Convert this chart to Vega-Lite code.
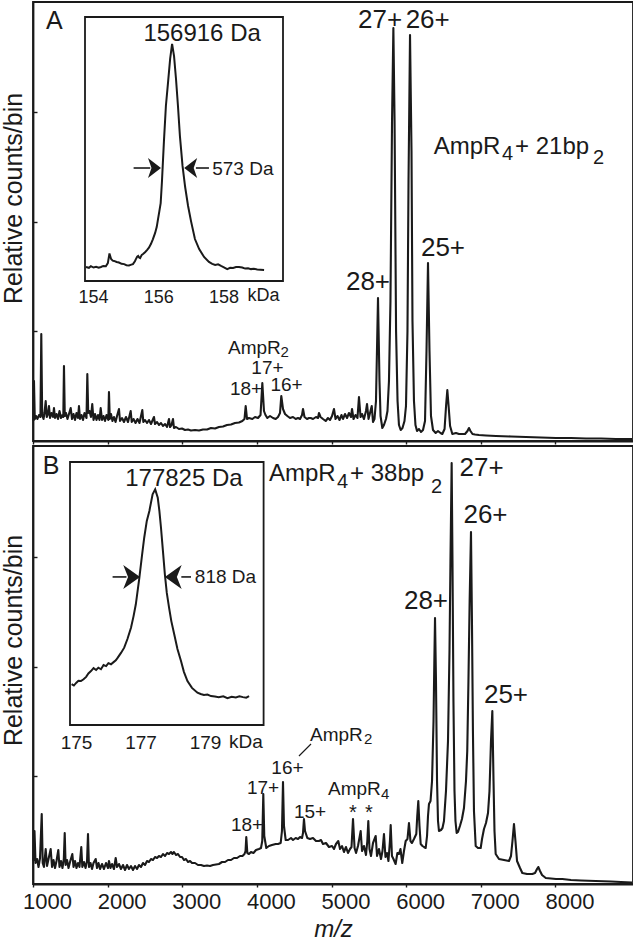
{
  "$schema": "https://vega.github.io/schema/vega-lite/v6.json",
  "padding": {"left": 0, "top": 1, "right": 0, "bottom": 0},
  "background": "white",
  "bounds": "flush",
  "spacing": 5,
  "config": {
    "font": "Liberation Sans",
    "view": {"stroke": "#1a1a1a", "strokeWidth": 1.8},
    "axis": {"grid": false, "domainColor": "#1a1a1a", "domainWidth": 1.8, "tickColor": "#1a1a1a", "tickWidth": 1.4, "labelColor": "#1a1a1a", "titleColor": "#1a1a1a", "titleFontWeight": "normal", "labelFont": "Liberation Sans", "titleFont": "Liberation Sans"},
    "text": {"color": "#1a1a1a", "font": "Liberation Sans"}
  },
  "datasets": {
    "specA": [
      {"mz":1007,"v":20},{"mz":1013,"v":60},{"mz":1024,"v":22},{"mz":1040,"v":25},{"mz":1060,"v":22},{"mz":1080,"v":26},{"mz":1100,"v":24},{"mz":1111,"v":107},{"mz":1123,"v":26},{"mz":1141,"v":22},{"mz":1154,"v":28},{"mz":1170,"v":40},{"mz":1184,"v":24},{"mz":1201,"v":27},{"mz":1214,"v":35},{"mz":1228,"v":23},{"mz":1248,"v":28},{"mz":1268,"v":24},{"mz":1281,"v":33},{"mz":1295,"v":23},{"mz":1315,"v":27},{"mz":1335,"v":22},{"mz":1355,"v":30},{"mz":1375,"v":23},{"mz":1395,"v":26},{"mz":1406,"v":24},{"mz":1415,"v":75},{"mz":1426,"v":25},{"mz":1442,"v":28},{"mz":1462,"v":22},{"mz":1482,"v":27},{"mz":1505,"v":33},{"mz":1523,"v":22},{"mz":1543,"v":27},{"mz":1563,"v":21},{"mz":1583,"v":28},{"mz":1603,"v":23},{"mz":1616,"v":35},{"mz":1630,"v":22},{"mz":1650,"v":26},{"mz":1670,"v":21},{"mz":1690,"v":28},{"mz":1717,"v":23},{"mz":1728,"v":67},{"mz":1740,"v":28},{"mz":1757,"v":30},{"mz":1777,"v":24},{"mz":1794,"v":37},{"mz":1811,"v":21},{"mz":1831,"v":27},{"mz":1851,"v":21},{"mz":1871,"v":26},{"mz":1891,"v":21},{"mz":1907,"v":33},{"mz":1925,"v":21},{"mz":1945,"v":25},{"mz":1965,"v":20},{"mz":1985,"v":26},{"mz":2009,"v":21},{"mz":2018,"v":49},{"mz":2029,"v":22},{"mz":2045,"v":27},{"mz":2065,"v":20},{"mz":2085,"v":24},{"mz":2106,"v":19},{"mz":2126,"v":25},{"mz":2152,"v":32},{"mz":2166,"v":20},{"mz":2193,"v":23},{"mz":2219,"v":19},{"mz":2246,"v":24},{"mz":2273,"v":19},{"mz":2309,"v":30},{"mz":2323,"v":19},{"mz":2347,"v":22},{"mz":2374,"v":18},{"mz":2400,"v":22},{"mz":2427,"v":18},{"mz":2465,"v":31},{"mz":2478,"v":19},{"mz":2501,"v":21},{"mz":2528,"v":18},{"mz":2554,"v":21},{"mz":2581,"v":17},{"mz":2621,"v":24},{"mz":2635,"v":17},{"mz":2662,"v":19},{"mz":2688,"v":16},{"mz":2715,"v":18},{"mz":2742,"v":15},{"mz":2769,"v":17},{"mz":2796,"v":14},{"mz":2822,"v":22},{"mz":2836,"v":14},{"mz":2856,"v":16},{"mz":2876,"v":22},{"mz":2889,"v":13},{"mz":2916,"v":14},{"mz":2956,"v":12},{"mz":2997,"v":12.5},{"mz":3037,"v":11},{"mz":3077,"v":11.5},{"mz":3117,"v":10.5},{"mz":3171,"v":11},{"mz":3224,"v":10.5},{"mz":3278,"v":11.5},{"mz":3332,"v":11.5},{"mz":3385,"v":13},{"mz":3439,"v":12.5},{"mz":3492,"v":14},{"mz":3546,"v":14.5},{"mz":3600,"v":16},{"mz":3653,"v":16.5},{"mz":3707,"v":18},{"mz":3760,"v":18.5},{"mz":3805,"v":20},{"mz":3834,"v":22},{"mz":3850,"v":35},{"mz":3868,"v":22},{"mz":3894,"v":23},{"mz":3939,"v":22},{"mz":3975,"v":24},{"mz":4015,"v":23},{"mz":4049,"v":26},{"mz":4073,"v":58},{"mz":4095,"v":30},{"mz":4115,"v":26},{"mz":4140,"v":23},{"mz":4176,"v":25},{"mz":4216,"v":23},{"mz":4252,"v":22},{"mz":4283,"v":24},{"mz":4310,"v":28},{"mz":4327,"v":45},{"mz":4350,"v":32},{"mz":4377,"v":27},{"mz":4408,"v":25},{"mz":4444,"v":23},{"mz":4484,"v":24},{"mz":4520,"v":22},{"mz":4551,"v":23},{"mz":4578,"v":22},{"mz":4605,"v":26},{"mz":4618,"v":32},{"mz":4638,"v":24},{"mz":4672,"v":22},{"mz":4698,"v":23},{"mz":4721,"v":23},{"mz":4752,"v":22},{"mz":4792,"v":24},{"mz":4819,"v":23},{"mz":4832,"v":28},{"mz":4853,"v":24},{"mz":4886,"v":22},{"mz":4922,"v":20},{"mz":4953,"v":23},{"mz":4980,"v":21},{"mz":5007,"v":25},{"mz":5033,"v":32},{"mz":5054,"v":22},{"mz":5080,"v":25},{"mz":5107,"v":21},{"mz":5134,"v":26},{"mz":5154,"v":22},{"mz":5181,"v":27},{"mz":5208,"v":23},{"mz":5234,"v":28},{"mz":5261,"v":24},{"mz":5275,"v":32},{"mz":5295,"v":22},{"mz":5322,"v":26},{"mz":5348,"v":23},{"mz":5368,"v":44},{"mz":5389,"v":24},{"mz":5409,"v":27},{"mz":5435,"v":22},{"mz":5462,"v":30},{"mz":5476,"v":37},{"mz":5496,"v":22},{"mz":5516,"v":28},{"mz":5539,"v":35},{"mz":5556,"v":19},{"mz":5576,"v":22},{"mz":5596,"v":40},{"mz":5623,"v":143},{"mz":5643,"v":60},{"mz":5657,"v":25},{"mz":5681,"v":13},{"mz":5703,"v":16},{"mz":5730,"v":22},{"mz":5750,"v":30},{"mz":5770,"v":60},{"mz":5790,"v":140},{"mz":5811,"v":320},{"mz":5829,"v":413},{"mz":5845,"v":320},{"mz":5865,"v":110},{"mz":5885,"v":40},{"mz":5904,"v":16},{"mz":5927,"v":11},{"mz":5951,"v":13},{"mz":5978,"v":20},{"mz":5998,"v":35},{"mz":6018,"v":110},{"mz":6032,"v":260},{"mz":6052,"v":406},{"mz":6072,"v":290},{"mz":6085,"v":120},{"mz":6105,"v":40},{"mz":6125,"v":16},{"mz":6146,"v":10},{"mz":6172,"v":12},{"mz":6199,"v":9},{"mz":6226,"v":11},{"mz":6253,"v":20},{"mz":6273,"v":90},{"mz":6293,"v":178},{"mz":6313,"v":90},{"mz":6333,"v":25},{"mz":6360,"v":11},{"mz":6396,"v":8},{"mz":6427,"v":10},{"mz":6461,"v":8},{"mz":6485,"v":7},{"mz":6515,"v":12},{"mz":6535,"v":35},{"mz":6552,"v":51},{"mz":6569,"v":35},{"mz":6589,"v":15},{"mz":6619,"v":7},{"mz":6668,"v":8},{"mz":6708,"v":7},{"mz":6752,"v":7},{"mz":6789,"v":7},{"mz":6822,"v":10},{"mz":6842,"v":13},{"mz":6862,"v":10},{"mz":6889,"v":7},{"mz":6923,"v":6.5},{"mz":6976,"v":6},{"mz":7070,"v":5.5},{"mz":7204,"v":5},{"mz":7405,"v":4.5},{"mz":7606,"v":4},{"mz":7807,"v":3.5},{"mz":8008,"v":3},{"mz":8209,"v":3},{"mz":8410,"v":2.5},{"mz":8611,"v":2.5},{"mz":8812,"v":2},{"mz":9027,"v":2}
    ],
    "specB": [
      {"mz":1007,"v":23},{"mz":1020,"v":53},{"mz":1034,"v":21},{"mz":1054,"v":25},{"mz":1074,"v":17},{"mz":1094,"v":26},{"mz":1117,"v":70},{"mz":1130,"v":21},{"mz":1147,"v":17},{"mz":1170,"v":35},{"mz":1188,"v":18},{"mz":1208,"v":25},{"mz":1237,"v":35},{"mz":1255,"v":17},{"mz":1275,"v":24},{"mz":1295,"v":16},{"mz":1315,"v":23},{"mz":1339,"v":34},{"mz":1355,"v":17},{"mz":1375,"v":23},{"mz":1395,"v":16},{"mz":1413,"v":25},{"mz":1425,"v":51},{"mz":1437,"v":19},{"mz":1456,"v":24},{"mz":1476,"v":16},{"mz":1496,"v":22},{"mz":1527,"v":30},{"mz":1543,"v":17},{"mz":1563,"v":23},{"mz":1583,"v":16},{"mz":1603,"v":21},{"mz":1623,"v":17},{"mz":1647,"v":37},{"mz":1661,"v":17},{"mz":1683,"v":22},{"mz":1704,"v":16},{"mz":1724,"v":23},{"mz":1737,"v":50},{"mz":1750,"v":17},{"mz":1771,"v":21},{"mz":1791,"v":15},{"mz":1811,"v":21},{"mz":1840,"v":25},{"mz":1858,"v":16},{"mz":1878,"v":21},{"mz":1898,"v":15},{"mz":1925,"v":20},{"mz":1951,"v":15},{"mz":1978,"v":21},{"mz":2005,"v":16},{"mz":2018,"v":23},{"mz":2039,"v":16},{"mz":2059,"v":20},{"mz":2085,"v":15},{"mz":2108,"v":26},{"mz":2126,"v":17},{"mz":2152,"v":20},{"mz":2179,"v":15},{"mz":2206,"v":19},{"mz":2233,"v":14},{"mz":2260,"v":19},{"mz":2286,"v":15},{"mz":2313,"v":18},{"mz":2340,"v":14},{"mz":2367,"v":18},{"mz":2394,"v":15},{"mz":2420,"v":19},{"mz":2447,"v":17},{"mz":2474,"v":21},{"mz":2501,"v":19},{"mz":2528,"v":23},{"mz":2554,"v":22},{"mz":2581,"v":25},{"mz":2608,"v":24},{"mz":2635,"v":27},{"mz":2662,"v":26},{"mz":2688,"v":28},{"mz":2715,"v":27},{"mz":2742,"v":30},{"mz":2769,"v":28},{"mz":2796,"v":31},{"mz":2822,"v":30},{"mz":2849,"v":32},{"mz":2869,"v":30},{"mz":2889,"v":32},{"mz":2916,"v":29},{"mz":2943,"v":30},{"mz":2970,"v":27},{"mz":2997,"v":27},{"mz":3023,"v":24},{"mz":3050,"v":25},{"mz":3077,"v":22},{"mz":3104,"v":23},{"mz":3131,"v":21},{"mz":3171,"v":21},{"mz":3211,"v":19},{"mz":3251,"v":19},{"mz":3291,"v":18},{"mz":3332,"v":18.5},{"mz":3372,"v":18},{"mz":3412,"v":19},{"mz":3452,"v":19.5},{"mz":3492,"v":20},{"mz":3533,"v":22},{"mz":3573,"v":22},{"mz":3613,"v":24},{"mz":3653,"v":24},{"mz":3693,"v":26},{"mz":3734,"v":26},{"mz":3774,"v":28},{"mz":3807,"v":28},{"mz":3834,"v":30},{"mz":3848,"v":33},{"mz":3858,"v":47},{"mz":3872,"v":31},{"mz":3894,"v":30},{"mz":3921,"v":32},{"mz":3954,"v":31},{"mz":3988,"v":34},{"mz":4028,"v":35},{"mz":4055,"v":36},{"mz":4072,"v":43},{"mz":4086,"v":90},{"mz":4099,"v":48},{"mz":4126,"v":36},{"mz":4162,"v":38},{"mz":4202,"v":39},{"mz":4252,"v":40},{"mz":4283,"v":40},{"mz":4319,"v":41},{"mz":4336,"v":53},{"mz":4350,"v":102},{"mz":4363,"v":58},{"mz":4386,"v":44},{"mz":4417,"v":44},{"mz":4457,"v":46},{"mz":4484,"v":44},{"mz":4520,"v":46},{"mz":4551,"v":45},{"mz":4578,"v":47},{"mz":4605,"v":46},{"mz":4618,"v":51},{"mz":4631,"v":65},{"mz":4645,"v":53},{"mz":4676,"v":46},{"mz":4712,"v":45},{"mz":4752,"v":46},{"mz":4792,"v":43},{"mz":4832,"v":43},{"mz":4859,"v":44},{"mz":4886,"v":40},{"mz":4926,"v":41},{"mz":4966,"v":37},{"mz":5007,"v":38},{"mz":5033,"v":35},{"mz":5060,"v":40},{"mz":5091,"v":43},{"mz":5114,"v":35},{"mz":5141,"v":38},{"mz":5167,"v":32},{"mz":5194,"v":37},{"mz":5221,"v":31},{"mz":5248,"v":35},{"mz":5268,"v":37},{"mz":5288,"v":65},{"mz":5309,"v":36},{"mz":5329,"v":31},{"mz":5355,"v":38},{"mz":5391,"v":53},{"mz":5409,"v":33},{"mz":5435,"v":38},{"mz":5462,"v":29},{"mz":5480,"v":43},{"mz":5493,"v":63},{"mz":5509,"v":35},{"mz":5529,"v":28},{"mz":5556,"v":41},{"mz":5592,"v":48},{"mz":5610,"v":28},{"mz":5636,"v":35},{"mz":5663,"v":25},{"mz":5683,"v":33},{"mz":5703,"v":50},{"mz":5723,"v":27},{"mz":5743,"v":31},{"mz":5763,"v":23},{"mz":5783,"v":43},{"mz":5793,"v":59},{"mz":5810,"v":28},{"mz":5830,"v":25},{"mz":5859,"v":20},{"mz":5883,"v":31},{"mz":5904,"v":30},{"mz":5924,"v":35},{"mz":5948,"v":21},{"mz":5971,"v":33},{"mz":5994,"v":43},{"mz":6018,"v":45},{"mz":6038,"v":61},{"mz":6058,"v":43},{"mz":6078,"v":41},{"mz":6105,"v":45},{"mz":6136,"v":50},{"mz":6149,"v":68},{"mz":6163,"v":83},{"mz":6179,"v":58},{"mz":6195,"v":40},{"mz":6219,"v":38},{"mz":6239,"v":37},{"mz":6262,"v":36},{"mz":6280,"v":48},{"mz":6293,"v":68},{"mz":6306,"v":80},{"mz":6327,"v":83},{"mz":6347,"v":103},{"mz":6367,"v":163},{"mz":6378,"v":223},{"mz":6387,"v":266},{"mz":6400,"v":203},{"mz":6414,"v":103},{"mz":6427,"v":63},{"mz":6440,"v":53},{"mz":6467,"v":54},{"mz":6487,"v":56},{"mz":6507,"v":63},{"mz":6534,"v":93},{"mz":6561,"v":143},{"mz":6581,"v":233},{"mz":6594,"v":323},{"mz":6610,"v":421},{"mz":6621,"v":323},{"mz":6634,"v":183},{"mz":6648,"v":93},{"mz":6661,"v":63},{"mz":6677,"v":51},{"mz":6695,"v":52},{"mz":6721,"v":58},{"mz":6748,"v":65},{"mz":6775,"v":76},{"mz":6802,"v":103},{"mz":6819,"v":133},{"mz":6835,"v":203},{"mz":6851,"v":283},{"mz":6869,"v":352},{"mz":6882,"v":263},{"mz":6895,"v":153},{"mz":6909,"v":73},{"mz":6932,"v":38},{"mz":6963,"v":36},{"mz":6999,"v":36},{"mz":7017,"v":45},{"mz":7043,"v":55},{"mz":7070,"v":61},{"mz":7097,"v":71},{"mz":7117,"v":93},{"mz":7137,"v":143},{"mz":7155,"v":173},{"mz":7171,"v":103},{"mz":7184,"v":53},{"mz":7200,"v":30},{"mz":7244,"v":25},{"mz":7311,"v":24},{"mz":7378,"v":23},{"mz":7405,"v":28},{"mz":7425,"v":43},{"mz":7445,"v":60},{"mz":7465,"v":43},{"mz":7486,"v":23},{"mz":7526,"v":16},{"mz":7557,"v":11},{"mz":7620,"v":10},{"mz":7691,"v":10},{"mz":7727,"v":11},{"mz":7754,"v":15},{"mz":7771,"v":17},{"mz":7794,"v":13},{"mz":7821,"v":9},{"mz":7871,"v":6},{"mz":7941,"v":5.5},{"mz":8008,"v":5},{"mz":8093,"v":5},{"mz":8209,"v":4},{"mz":8343,"v":3.5},{"mz":8540,"v":3},{"mz":8745,"v":2.5},{"mz":8879,"v":2},{"mz":9027,"v":1.5}
    ],
    "insetA": [
      {"kDa":154.03,"v":5.3},{"kDa":154.12,"v":5.0},{"kDa":154.18,"v":5.6},{"kDa":154.26,"v":5.1},{"kDa":154.34,"v":5.4},{"kDa":154.42,"v":5.0},{"kDa":154.49,"v":5.3},{"kDa":154.56,"v":5.7},{"kDa":154.64,"v":5.6},{"kDa":154.70,"v":6.8},{"kDa":154.75,"v":10.4},{"kDa":154.80,"v":8.3},{"kDa":154.85,"v":7.7},{"kDa":154.89,"v":7.6},{"kDa":154.97,"v":7.2},{"kDa":155.04,"v":7.0},{"kDa":155.12,"v":6.5},{"kDa":155.20,"v":6.4},{"kDa":155.27,"v":6.0},{"kDa":155.35,"v":5.9},{"kDa":155.42,"v":6.2},{"kDa":155.47,"v":6.4},{"kDa":155.53,"v":7.5},{"kDa":155.56,"v":8.3},{"kDa":155.60,"v":9.2},{"kDa":155.63,"v":9.5},{"kDa":155.66,"v":8.9},{"kDa":155.69,"v":8.7},{"kDa":155.74,"v":9.9},{"kDa":155.78,"v":10.2},{"kDa":155.84,"v":10.9},{"kDa":155.90,"v":11.7},{"kDa":155.96,"v":12.6},{"kDa":156.02,"v":14.0},{"kDa":156.08,"v":15.8},{"kDa":156.15,"v":18.2},{"kDa":156.20,"v":20.5},{"kDa":156.24,"v":23.5},{"kDa":156.28,"v":26.5},{"kDa":156.32,"v":29.5},{"kDa":156.36,"v":37.9},{"kDa":156.42,"v":53.0},{"kDa":156.48,"v":66.3},{"kDa":156.55,"v":75.8},{"kDa":156.61,"v":84.1},{"kDa":156.67,"v":89.8},{"kDa":156.73,"v":85.2},{"kDa":156.79,"v":76.5},{"kDa":156.85,"v":66.3},{"kDa":156.91,"v":54.9},{"kDa":156.99,"v":43.6},{"kDa":157.07,"v":35.6},{"kDa":157.16,"v":28.4},{"kDa":157.25,"v":22.7},{"kDa":157.37,"v":15.9},{"kDa":157.50,"v":12.1},{"kDa":157.65,"v":9.1},{"kDa":157.80,"v":7.2},{"kDa":157.90,"v":6.5},{"kDa":157.99,"v":6.1},{"kDa":158.08,"v":6.3},{"kDa":158.17,"v":5.7},{"kDa":158.26,"v":5.2},{"kDa":158.36,"v":4.5},{"kDa":158.45,"v":5.0},{"kDa":158.54,"v":4.9},{"kDa":158.63,"v":5.3},{"kDa":158.72,"v":5.3},{"kDa":158.82,"v":5.1},{"kDa":158.91,"v":4.7},{"kDa":159.00,"v":4.8},{"kDa":159.09,"v":4.5},{"kDa":159.18,"v":4.6},{"kDa":159.28,"v":4.4},{"kDa":159.38,"v":4.3},{"kDa":159.49,"v":4.2}
    ],
    "insetB": [
      {"kDa":175.05,"v":15.5},{"kDa":175.12,"v":15.0},{"kDa":175.19,"v":16.0},{"kDa":175.26,"v":16.8},{"kDa":175.34,"v":16.7},{"kDa":175.42,"v":17.4},{"kDa":175.50,"v":18.3},{"kDa":175.57,"v":19.6},{"kDa":175.65,"v":20.5},{"kDa":175.73,"v":21.6},{"kDa":175.81,"v":20.9},{"kDa":175.88,"v":21.8},{"kDa":175.96,"v":21.2},{"kDa":176.04,"v":22.8},{"kDa":176.12,"v":22.4},{"kDa":176.19,"v":23.5},{"kDa":176.27,"v":23.1},{"kDa":176.36,"v":24.0},{"kDa":176.42,"v":24.6},{"kDa":176.48,"v":25.6},{"kDa":176.58,"v":27.4},{"kDa":176.68,"v":29.4},{"kDa":176.78,"v":32.7},{"kDa":176.89,"v":37.0},{"kDa":176.97,"v":41.4},{"kDa":177.04,"v":45.9},{"kDa":177.15,"v":56.0},{"kDa":177.23,"v":64.3},{"kDa":177.30,"v":71.2},{"kDa":177.38,"v":77.6},{"kDa":177.46,"v":81.4},{"kDa":177.56,"v":87.7},{"kDa":177.64,"v":89.6},{"kDa":177.72,"v":86.4},{"kDa":177.77,"v":81.4},{"kDa":177.82,"v":75.0},{"kDa":177.88,"v":66.2},{"kDa":177.94,"v":57.3},{"kDa":178.00,"v":50.2},{"kDa":178.07,"v":44.6},{"kDa":178.14,"v":39.5},{"kDa":178.23,"v":34.5},{"kDa":178.33,"v":28.9},{"kDa":178.44,"v":24.3},{"kDa":178.53,"v":20.2},{"kDa":178.64,"v":16.7},{"kDa":178.78,"v":14.1},{"kDa":178.95,"v":12.3},{"kDa":179.05,"v":11.8},{"kDa":179.15,"v":11.4},{"kDa":179.26,"v":11.6},{"kDa":179.37,"v":11.0},{"kDa":179.49,"v":10.8},{"kDa":179.61,"v":10.6},{"kDa":179.75,"v":10.9},{"kDa":179.88,"v":10.2},{"kDa":180.01,"v":10.7},{"kDa":180.14,"v":10.5},{"kDa":180.25,"v":10.9},{"kDa":180.36,"v":10.6},{"kDa":180.46,"v":10.4},{"kDa":180.55,"v":11.0}
    ]
  },
  "vconcat": [
    {
      "width": 600,
      "height": 439,
      "resolve": {"scale": {"x": "independent", "y": "independent"}, "axis": {"x": "independent", "y": "independent"}},
      "layer": [
        {
          "encoding": {
            "x": {"field": "mz", "type": "quantitative", "scale": {"domain": [1000, 9040], "nice": false, "zero": false},
                  "axis": {"orient": "bottom", "values": [1000,2000,3000,4000,5000,6000,7000,8000], "labels": false, "tickSize": 3, "title": null}},
            "y": {"field": "v", "type": "quantitative", "scale": {"domain": [0, 439], "nice": false, "zero": false},
                  "axis": {"orient": "left", "values": [110, 219, 329], "labels": false, "tickSize": -4, "title": "Relative counts/bin", "titleFontSize": 25, "titleAngle": -90, "titleX": -12, "titleY": 196, "titleBaseline": "alphabetic", "titleAlign": "center"}}
          },
          "layer": [
            {"data": {"name": "specA"}, "mark": {"type": "line", "color": "#1a1a1a", "strokeWidth": 2.1, "strokeJoin": "round"}},
            {"data": {"values": [{"t":"27+","mz":5650,"v":413},{"t":"26+","mz":6289,"v":413},{"t":"25+","mz":6494,"v":185},{"t":"28+","mz":5489,"v":151}]},
             "mark": {"type": "text", "fontSize": 26, "align": "center", "baseline": "alphabetic"}, "encoding": {"text": {"field": "t"}}},
            {"data": {"values": [{"t":"AmpR","mz":6369,"v":287},{"t":"+ 21bp","mz":7459,"v":287}]},
             "mark": {"type": "text", "fontSize": 24, "align": "left", "baseline": "alphabetic"}, "encoding": {"text": {"field": "t"}}},
            {"data": {"values": [{"t":"A","mz":1174,"v":412}]},
             "mark": {"type": "text", "fontSize": 25, "align": "left", "baseline": "alphabetic"}, "encoding": {"text": {"field": "t"}}},
            {"data": {"values": [{"t":"4","mz":7285,"v":281},{"t":"2","mz":8504,"v":277}]},
             "mark": {"type": "text", "fontSize": 20, "align": "left", "baseline": "alphabetic"}, "encoding": {"text": {"field": "t"}}},
            {"data": {"values": [{"t":"18+","mz":3854,"v":46},{"t":"17+","mz":4142,"v":67},{"t":"16+","mz":4397,"v":50}]},
             "mark": {"type": "text", "fontSize": 19, "align": "center", "baseline": "alphabetic"}, "encoding": {"text": {"field": "t"}}},
            {"data": {"values": [{"t":"AmpR","mz":3613,"v":87}]},
             "mark": {"type": "text", "fontSize": 19, "align": "left", "baseline": "alphabetic"}, "encoding": {"text": {"field": "t"}}},
            {"data": {"values": [{"t":"2","mz":4316,"v":84}]},
             "mark": {"type": "text", "fontSize": 15, "align": "left", "baseline": "alphabetic"}, "encoding": {"text": {"field": "t"}}}
          ]
        },
        {
          "encoding": {
            "x": {"field": "kDa", "type": "quantitative", "scale": {"domain": [154, 160.07], "range": [52, 250], "nice": false, "zero": false},
                  "axis": {"orient": "bottom", "offset": -160, "values": [154,155,156,157,158,159], "labelExpr": "datum.value % 2 == 0 ? datum.label : ''", "domain": false, "tickSize": -5, "labelPadding": 12, "labelFontSize": 18, "labelOffset": 8, "labelFlush": false, "labelOverlap": false, "title": null}},
            "y": {"field": "v", "type": "quantitative", "scale": {"domain": [0, 100], "range": [279, 15], "nice": false, "zero": false}, "axis": null}
          },
          "layer": [
            {"data": {"values": [{"kDa": 154, "kDa2": 160.07, "v": 0, "v2": 100}]},
             "mark": {"type": "rect", "fill": "white", "stroke": "#1a1a1a", "strokeWidth": 1.8},
             "encoding": {"x2": {"field": "kDa2"}, "y2": {"field": "v2"}}},
            {"data": {"name": "insetA"}, "mark": {"type": "line", "color": "#1a1a1a", "strokeWidth": 2}},
            {"data": {"values": [{"t":"156916 Da","kDa":157.59,"v":90.9}]},
             "mark": {"type": "text", "fontSize": 24, "align": "center", "baseline": "alphabetic"}, "encoding": {"text": {"field": "t"}}},
            {"data": {"values": [{"t":"573 Da","kDa":157.90,"v":40.2}]},
             "mark": {"type": "text", "fontSize": 19, "align": "left", "baseline": "alphabetic"}, "encoding": {"text": {"field": "t"}}},
            {"data": {"values": [{"t":"kDa","kDa":159.47,"v":-7.6}]},
             "mark": {"type": "text", "fontSize": 18, "align": "center", "baseline": "alphabetic"}, "encoding": {"text": {"field": "t"}}},
            {"data": {"values": [{"kDa":155.49,"kDa2":156.0,"v":42.8},{"kDa":157.40,"kDa2":157.80,"v":42.8}]},
             "mark": {"type": "rule", "color": "#1a1a1a", "strokeWidth": 1.6}, "encoding": {"x2": {"field": "kDa2"}}},
            {"data": {"values": [{"kDa":156.13,"v":42.8}]},
             "mark": {"type": "point", "filled": true, "opacity": 1, "color": "#1a1a1a", "size": 400, "shape": "M0.65,0L-0.65,-1L-0.3,0L-0.65,1Z"}},
            {"data": {"values": [{"kDa":157.24,"v":42.8}]},
             "mark": {"type": "point", "filled": true, "opacity": 1, "color": "#1a1a1a", "size": 400, "shape": "M-0.65,0L0.65,-1L0.3,0L0.65,1Z"}}
          ]
        }
      ]
    },
    {
      "width": 600,
      "height": 438,
      "resolve": {"scale": {"x": "independent", "y": "independent"}, "axis": {"x": "independent", "y": "independent"}},
      "layer": [
        {
          "encoding": {
            "x": {"field": "mz", "type": "quantitative", "scale": {"domain": [1000, 9040], "nice": false, "zero": false},
                  "axis": {"orient": "bottom", "values": [1000,2000,3000,4000,5000,6000,7000,8000], "format": "d", "tickSize": 3, "labelFontSize": 22, "labelOffset": 14, "labelPadding": 4, "labelFlush": false, "labelOverlap": false, "title": "m/z", "titleFontSize": 24, "titleFontStyle": "italic", "titlePadding": 5}},
            "y": {"field": "v", "type": "quantitative", "scale": {"domain": [0, 438], "nice": false, "zero": false},
                  "axis": {"orient": "left", "values": [108, 217, 327], "labels": false, "tickSize": -4, "title": "Relative counts/bin", "titleFontSize": 25, "titleAngle": -90, "titleX": -12, "titleY": 194, "titleBaseline": "alphabetic", "titleAlign": "center"}}
          },
          "layer": [
            {"data": {"name": "specB"}, "mark": {"type": "line", "color": "#1a1a1a", "strokeWidth": 2.1, "strokeJoin": "round"}},
            {"data": {"values": [{"t":"27+","mz":7010,"v":408},{"t":"26+","mz":7063,"v":361},{"t":"28+","mz":6266,"v":275},{"t":"25+","mz":7338,"v":181}]},
             "mark": {"type": "text", "fontSize": 26, "align": "center", "baseline": "alphabetic"}, "encoding": {"text": {"field": "t"}}},
            {"data": {"values": [{"t":"AmpR","mz":4162,"v":403},{"t":"+ 38bp","mz":5248,"v":403}]},
             "mark": {"type": "text", "fontSize": 24, "align": "left", "baseline": "alphabetic"}, "encoding": {"text": {"field": "t"}}},
            {"data": {"values": [{"t":"B","mz":1130,"v":410}]},
             "mark": {"type": "text", "fontSize": 25, "align": "left", "baseline": "alphabetic"}, "encoding": {"text": {"field": "t"}}},
            {"data": {"values": [{"t":"4","mz":5073,"v":396},{"t":"2","mz":6333,"v":391}]},
             "mark": {"type": "text", "fontSize": 20, "align": "left", "baseline": "alphabetic"}, "encoding": {"text": {"field": "t"}}},
            {"data": {"values": [{"t":"18+","mz":3868,"v":53},{"t":"17+","mz":4082,"v":90},{"t":"16+","mz":4410,"v":110},{"t":"15+","mz":4712,"v":66}]},
             "mark": {"type": "text", "fontSize": 19, "align": "center", "baseline": "alphabetic"}, "encoding": {"text": {"field": "t"}}},
            {"data": {"values": [{"t":"AmpR","mz":4712,"v":143},{"t":"AmpR","mz":4953,"v":89}]},
             "mark": {"type": "text", "fontSize": 19, "align": "left", "baseline": "alphabetic"}, "encoding": {"text": {"field": "t"}}},
            {"data": {"values": [{"t":"2","mz":5435,"v":140},{"t":"4","mz":5663,"v":85}]},
             "mark": {"type": "text", "fontSize": 15, "align": "left", "baseline": "alphabetic"}, "encoding": {"text": {"field": "t"}}},
            {"data": {"values": [{"t":"*","mz":5288,"v":65},{"t":"*","mz":5502,"v":65}]},
             "mark": {"type": "text", "fontSize": 20, "align": "center", "baseline": "alphabetic"}, "encoding": {"text": {"field": "t"}}},
            {"data": {"values": [{"mz":4564,"mz2":4725,"v":128,"v2":140}]},
             "mark": {"type": "rule", "color": "#1a1a1a", "strokeWidth": 1.2}, "encoding": {"x2": {"field": "mz2"}, "y2": {"field": "v2"}}}
          ]
        },
        {
          "encoding": {
            "x": {"field": "kDa", "type": "quantitative", "scale": {"domain": [175, 181], "range": [37, 230.6], "nice": false, "zero": false},
                  "axis": {"orient": "bottom", "offset": -159, "values": [175,176,177,178,179,180], "labelExpr": "datum.value % 2 == 1 ? datum.label : ''", "domain": false, "tickSize": -5, "labelPadding": 13, "labelFontSize": 19, "labelOffset": 6, "labelFlush": false, "labelOverlap": false, "title": null}},
            "y": {"field": "v", "type": "quantitative", "scale": {"domain": [0, 100], "range": [279, 16], "nice": false, "zero": false}, "axis": null}
          },
          "layer": [
            {"data": {"values": [{"kDa": 175, "kDa2": 181, "v": 0, "v2": 100}]},
             "mark": {"type": "rect", "fill": "white", "stroke": "#1a1a1a", "strokeWidth": 1.8},
             "encoding": {"x2": {"field": "kDa2"}, "y2": {"field": "v2"}}},
            {"data": {"name": "insetB"}, "mark": {"type": "line", "color": "#1a1a1a", "strokeWidth": 2}},
            {"data": {"values": [{"t":"177825 Da","kDa":178.53,"v":90.9}]},
             "mark": {"type": "text", "fontSize": 24, "align": "center", "baseline": "alphabetic"}, "encoding": {"text": {"field": "t"}}},
            {"data": {"values": [{"t":"818 Da","kDa":178.87,"v":54}]},
             "mark": {"type": "text", "fontSize": 19, "align": "left", "baseline": "alphabetic"}, "encoding": {"text": {"field": "t"}}},
            {"data": {"values": [{"t":"kDa","kDa":180.45,"v":-8.7}]},
             "mark": {"type": "text", "fontSize": 19, "align": "center", "baseline": "alphabetic"}, "encoding": {"text": {"field": "t"}}},
            {"data": {"values": [{"kDa":176.32,"kDa2":176.75,"v":56.3},{"kDa":178.45,"kDa2":178.75,"v":56.3}]},
             "mark": {"type": "rule", "color": "#1a1a1a", "strokeWidth": 1.6}, "encoding": {"x2": {"field": "kDa2"}}},
            {"data": {"values": [{"kDa":176.91,"v":56.3}]},
             "mark": {"type": "point", "filled": true, "opacity": 1, "color": "#1a1a1a", "size": 576, "shape": "M0.7,0L-0.7,-1L-0.3,0L-0.7,1Z"}},
            {"data": {"values": [{"kDa":178.20,"v":56.3}]},
             "mark": {"type": "point", "filled": true, "opacity": 1, "color": "#1a1a1a", "size": 576, "shape": "M-0.7,0L0.7,-1L0.3,0L0.7,1Z"}}
          ]
        }
      ]
    }
  ]
}
